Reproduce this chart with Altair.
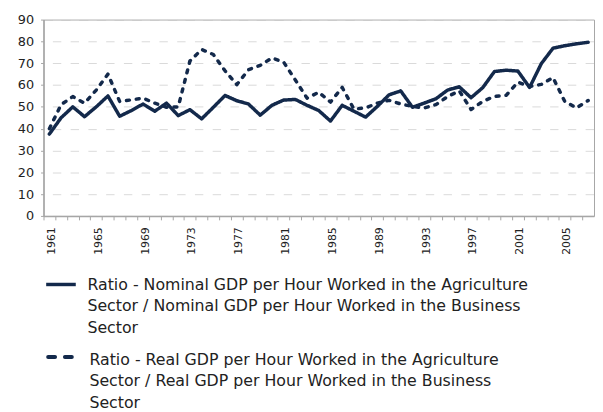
import altair as alt
import pandas as pd

years = list(range(1961, 2008))
nominal = [37.5, 45, 50, 45.5, 50, 55, 45.7, 48.3, 51.3, 48, 51.7, 46, 48.7, 44.5,
           49.8, 55.2, 52.8, 51.3, 46.2, 50.7, 53.1, 53.4, 50.7, 48.3, 43.5, 50.7,
           48, 45.3, 50.2, 55.5, 57.3, 49.8, 51.7, 53.7, 57.7, 59.2, 54.2, 58.8,
           66.2, 66.8, 66.4, 58.9, 69.8, 76.9, 78, 78.9, 79.6]
real = [40, 51, 54.7, 51.7, 57.7, 65, 52.5, 53.2, 54, 51.7, 49.8, 50, 71, 76.3,
        74, 66.5, 60.2, 67, 69, 72.4, 70.5, 62.3, 54, 56.7, 52.2, 58.9,
        49, 49.5, 51.7, 53, 51.3, 50.2, 49.5, 51, 54.7, 57.3, 48.8, 52.5,
        54.8, 55.3, 61.3, 59.3, 60.3, 63.4, 52.5, 49.5, 52.9]
series_names = ["Nominal", "Real"]
legend_labels = [
    "Ratio - Nominal GDP per Hour Worked in the Agriculture\nSector / Nominal GDP per Hour Worked in the Business\nSector",
    "Ratio - Real GDP per Hour Worked in the Agriculture\nSector / Real GDP per Hour Worked in the Business\nSector",
]
y_ticks = list(range(0, 100, 10))
tick_years = years + [2008]

df = pd.DataFrame({
    "year": years + years,
    "value": nominal + real,
    "series": [series_names[0]] * len(years) + [series_names[1]] * len(years),
})

W, H = 558, 199
band = W / len(years)
navy = "#13294b"
gray = "#a6a6a6"

lines = alt.Chart(df).mark_line(strokeWidth=3.5, strokeCap="round", strokeJoin="round", color=navy).encode(
    x=alt.X("year:Q", title=None,
            scale=alt.Scale(domain=[1960.5, 2007.5], nice=False, zero=False),
            axis=alt.Axis(values=tick_years, format="d", tickOffset=-band / 2, labelOffset=band / 2 + 2,
                          labelExpr="(datum.value - 1961) % 4 == 0 && datum.value < 2006 ? datum.label : ''",
                          labelAngle=270, labelOverlap=False, labelFlush=False, grid=False,
                          tickSize=4, tickColor=gray, domainColor=gray, domainWidth=1.5,
                          labelPadding=7, labelFont="DejaVu Sans", labelFontSize=11, labelColor="#222")),
    y=alt.Y("value:Q", title=None,
            scale=alt.Scale(domain=[0, 90], nice=False),
            axis=alt.Axis(values=y_ticks, grid=True, gridColor="#d9d9d9", gridDash=[8.5, 9.5], gridDashOffset=9,
                          tickSize=3, tickColor=gray, domainColor=gray, domainWidth=1.5,
                          labelPadding=7, labelFont="DejaVu Sans", labelFontSize=13, labelColor="#222")),
    strokeDash=alt.StrokeDash("series:N", scale=alt.Scale(domain=series_names, range=[[1, 0], [3, 7]]), legend=None),
)

leg1 = pd.DataFrame({"label": [legend_labels[0]]})
leg2 = pd.DataFrame({"label": [legend_labels[1]]})

sym1 = alt.Chart(leg1).mark_rule(color=navy, strokeWidth=3.5).encode(
    x=alt.value(2.7), x2=alt.value(32.7), y=alt.value(268.5))
sym2 = alt.Chart(leg2).mark_rule(color=navy, strokeWidth=4, strokeCap="round", strokeDash=[7, 10]).encode(
    x=alt.value(4.7), x2=alt.value(29), y=alt.value(342))
txt_props = dict(align="left", baseline="alphabetic", font="DejaVu Sans", fontSize=16,
                 lineBreak="\n", lineHeight=22, color="#222")
txt1 = alt.Chart(leg1).mark_text(**txt_props).encode(x=alt.value(44.5), y=alt.value(273.7), text="label:N")
txt2 = alt.Chart(leg2).mark_text(**txt_props).encode(x=alt.value(46.5), y=alt.value(349.7), text="label:N")

chart = alt.layer(lines, sym1, sym2, txt1, txt2).properties(
    width=W, height=H,
    autosize=alt.AutoSizeParams(type="none"),
    padding={"left": 36, "top": 9, "right": 1, "bottom": 196},
).configure_view(stroke=gray, strokeWidth=1)

chart.save("out.html", embed_options={"renderer": "svg", "actions": False})
